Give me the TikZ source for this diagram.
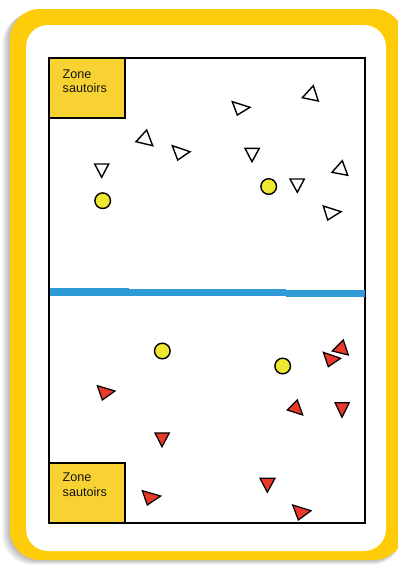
\documentclass[tikz,border=0pt]{standalone}
\usepackage{fontspec}
\newfontfamily\labelfont{Liberation Sans}
\definecolor{cardyellow}{RGB}{255,204,10}
\definecolor{zoneyellow}{RGB}{248,210,50}
\definecolor{ballyellow}{RGB}{238,232,48}
\definecolor{conered}{RGB}{234,56,42}
\definecolor{lineblue}{RGB}{46,154,214}
\tikzset{
  whitecone/.style={draw=black, fill=white, line width=1.4pt, line join=miter},
  redcone/.style={draw=black, fill=conered, line width=1.2pt, line join=miter},
  ball/.style={draw=black, fill=ballyellow, line width=1.4pt},
  zonebox/.style={draw=black, fill=zoneyellow, line width=1.1pt},
  zonetext/.style={anchor=base west, inner sep=0pt, font=\labelfont\fontsize{12.6}{14}\selectfont, text=black!92},
  bluestripe/.style={fill=lineblue}
}
\begin{document}
\begin{tikzpicture}[x=1pt,y=-1pt]
\useasboundingbox (0,0) rectangle (398,565);
\fill[white] (0,0) rectangle (398,565);
% shadow
\begin{scope}
\clip (0,0) rectangle (398,565);
\foreach \i in {1,...,8}{
  \fill[black, opacity=0.035, rounded corners=30pt] (10-\i,9+0.6*\i) rectangle (402,560+0.6*\i);
}
\end{scope}
% card
\fill[cardyellow, rounded corners=30pt] (10,9) rectangle (404,560);
\fill[white, rounded corners=22pt] (26,25) rectangle (386,551);
% field
\draw[black, line width=1.1pt] (49,58) rectangle (365,523);
% blue stripe
\fill[bluestripe] (49.5,288.3) rectangle (128.5,295.6);
\fill[bluestripe] (128.5,289) rectangle (286,296.3);
\fill[bluestripe] (286,290) rectangle (364.5,296.8);
% zones
\draw[zonebox] (49,58) rectangle (125,118);
\node[zonetext] (z1a) at (62.5,78.3) {Zone};
\node[zonetext] (z1b) at (62.5,92.6) {sautoirs};
\draw[zonebox] (49,463) rectangle (125,523);
\node[zonetext] (z2a) at (62.5,481.7) {Zone};
\node[zonetext] (z2b) at (62.5,496) {sautoirs};
% white cones (top)
\draw[whitecone] (136,141.7) -- (146.7,130) -- (152.7,145.7) -- cycle;
\draw[whitecone] (172.3,145.7) -- (190,151.7) -- (177.7,160) -- cycle;
\draw[whitecone] (94.7,164) -- (108.7,164) -- (101.7,177.3) -- cycle;
\draw[whitecone] (232.3,101.7) -- (250,107.3) -- (237.3,115) -- cycle;
\draw[whitecone] (302.3,97.7) -- (313.3,85.7) -- (318.3,101) -- cycle;
\draw[whitecone] (245,148.3) -- (259.3,148.3) -- (252,161.7) -- cycle;
\draw[whitecone] (290,179) -- (304.3,179) -- (297.3,192.3) -- cycle;
\draw[whitecone] (332,172.3) -- (342.3,160.7) -- (347.7,175.3) -- cycle;
\draw[whitecone] (323.3,206) -- (341,211.7) -- (327.7,220) -- cycle;
% balls
\draw[ball] (102.7,200.7) circle (7.8);
\draw[ball] (268.7,186.5) circle (7.8);
\draw[ball] (162.3,351) circle (7.8);
\draw[ball] (282.7,366) circle (7.8);
% red cones (bottom)
\draw[redcone] (97.3,385.7) -- (115,391) -- (102.3,400) -- cycle;
\draw[redcone] (155,433) -- (169.3,433) -- (162,446.7) -- cycle;
\draw[redcone] (332.3,351) -- (343.3,340) -- (348.3,355) -- cycle;
\draw[redcone] (323.3,352.3) -- (340.7,358.3) -- (328.3,366.7) -- cycle;
\draw[redcone] (287.3,410) -- (297.3,400) -- (302.7,415) -- cycle;
\draw[redcone] (335,402.7) -- (349.3,402.7) -- (342,417.3) -- cycle;
\draw[redcone] (142.3,490.7) -- (160.7,496) -- (147.3,505) -- cycle;
\draw[redcone] (260,478.3) -- (275,478.3) -- (267.3,492.3) -- cycle;
\draw[redcone] (292.7,505) -- (311,510.7) -- (298.3,520) -- cycle;
\end{tikzpicture}
\end{document}
